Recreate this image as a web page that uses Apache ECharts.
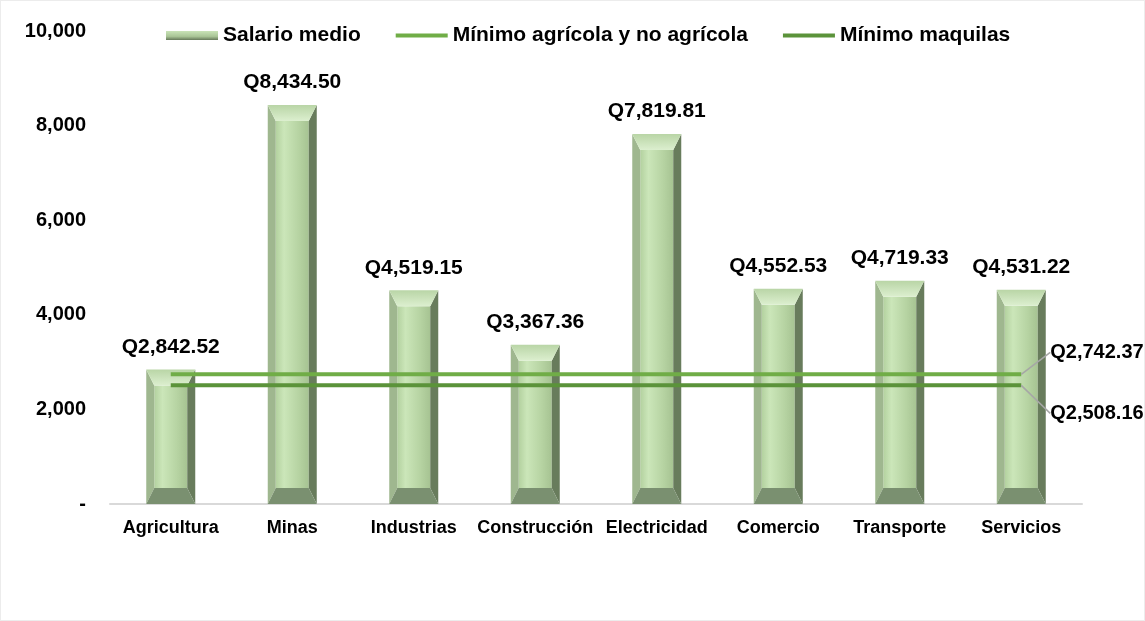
<!DOCTYPE html>
<html>
<head>
<meta charset="utf-8">
<script src="https://cdn.jsdelivr.net/npm/echarts@6/dist/echarts.min.js"></script>
<style>
  html, body { margin: 0; padding: 0; background: #fff; }
  #chart { width: 1145px; height: 621px; box-sizing: border-box; border: 1px solid #ececec; }
</style>
</head>
<body>
<div id="chart"></div>
<script>
const categories = ['Agricultura', 'Minas', 'Industrias', 'Construcción', 'Electricidad', 'Comercio', 'Transporte', 'Servicios']
const salarioMedio = [2842.52, 8434.50, 4519.15, 3367.36, 7819.81, 4552.53, 4719.33, 4531.22]
const minimoAgricola = [2742.37, 2742.37, 2742.37, 2742.37, 2742.37, 2742.37, 2742.37, 2742.37]
const minimoMaquilas = [2508.16, 2508.16, 2508.16, 2508.16, 2508.16, 2508.16, 2508.16, 2508.16]
const yTicks = [0, 2000, 4000, 6000, 8000, 10000]

const font = 'Liberation Sans, Arial, sans-serif'
const fmtQ = v => 'Q' + v.toLocaleString('en-US', { minimumFractionDigits: 2, maximumFractionDigits: 2 })
const lg = (c) => new echarts.graphic.LinearGradient(c[0], c[1], c[2], c[3], c[4])

// barra biselada dibujada con series custom
function renderBevelBar (params, api) {
  const idx = api.value(0)
  const val = api.value(1)
  const top = api.coord([idx, val])
  const base = api.coord([idx, 0])
  const w = 49
  const x0 = top[0] - w / 2
  const x1 = top[0] + w / 2
  const yT = top[1]
  const yB = base[1]
  const d = 8
  const t = Math.min(16, (yB - yT) / 2)
  const poly = (pts, fill) => ({ type: 'polygon', shape: { points: pts }, style: { fill: fill } })
  return {
    type: 'group',
    children: [
      {
        type: 'rect',
        shape: { x: x0 + d, y: yT + t, width: w - 2 * d, height: yB - yT - 2 * t },
        style: {
          fill: lg([0, 0, 1, 0, [
            { offset: 0, color: '#b3d19f' },
            { offset: 0.25, color: '#cbe6b9' },
            { offset: 0.7, color: '#b6d3a2' },
            { offset: 1, color: '#a6c392' }
          ]])
        }
      },
      poly([[x0, yT], [x0 + d, yT + t], [x0 + d, yB - t], [x0, yB]], '#9fb78f'),
      poly([[x1, yT], [x1 - d, yT + t], [x1 - d, yB - t], [x1, yB]], '#687c5c'),
      poly([[x0, yT], [x1, yT], [x1 - d, yT + t], [x0 + d, yT + t]],
        lg([0, 0, 0, 1, [{ offset: 0, color: '#b9d5a6' }, { offset: 1, color: '#dcefcf' }]])),
      poly([[x0, yB], [x1, yB], [x1 - d, yB - t], [x0 + d, yB - t]], '#7a9070'),
      {
        type: 'text',
        style: {
          text: fmtQ(val), x: top[0], y: yT - 12,
          align: 'center', verticalAlign: 'bottom',
          font: 'bold 21px ' + font, fill: '#000'
        }
      }
    ]
  }
}

const chart = echarts.init(document.getElementById('chart'))
chart.setOption({
  animation: false,
  textStyle: { fontFamily: font },
  legend: {
    top: 19,
    left: 160,
    itemGap: 33,
    itemWidth: 52,
    itemHeight: 9,
    textStyle: { fontSize: 21, fontWeight: 'bold', color: '#000', fontFamily: font },
    data: [
      { name: 'Salario medio', icon: 'rect' },
      { name: 'Mínimo agrícola y no agrícola', itemStyle: { opacity: 0 }, lineStyle: { width: 4 } },
      { name: 'Mínimo maquilas', itemStyle: { opacity: 0 }, lineStyle: { width: 4 } }
    ]
  },
  grid: { left: 109, right: 62, top: 30, bottom: 116 },
  xAxis: {
    type: 'category',
    data: categories,
    axisTick: { show: false },
    axisLine: { lineStyle: { color: '#d9d9d9', width: 2 } },
    axisLabel: { color: '#000', fontSize: 18, fontWeight: 'bold', margin: 15, interval: 0 }
  },
  yAxis: {
    type: 'value',
    min: yTicks[0],
    max: yTicks[yTicks.length - 1],
    interval: yTicks[1] - yTicks[0],
    splitLine: { show: false },
    axisLine: { show: false },
    axisTick: { show: false },
    axisLabel: {
      color: '#000', fontSize: 20, fontWeight: 'bold', margin: 24,
      formatter: v => v === 0 ? '-' : v.toLocaleString('en-US')
    }
  },
  series: [
    {
      name: 'Salario medio',
      type: 'custom',
      renderItem: renderBevelBar,
      encode: { x: 0, y: 1 },
      itemStyle: {
        color: lg([0, 0, 0, 1, [{ offset: 0, color: '#c9e3b7' }, { offset: 0.6, color: '#a9c596' }, { offset: 1, color: '#66795a' }]])
      },
      data: salarioMedio.map((v, i) => [i, v])
    },
    {
      name: 'Mínimo agrícola y no agrícola',
      type: 'line',
      data: minimoAgricola.map((v, i) => i === minimoAgricola.length - 1
        ? { value: v, label: { show: true } } : v),
      symbol: 'circle',
      symbolSize: 0.01,
      z: 5,
      lineStyle: { color: '#70ad47', width: 4 },
      itemStyle: { color: '#70ad47' },
      label: { show: false, position: 'right', color: '#000', fontSize: 20, fontWeight: 'bold', formatter: p => fmtQ(p.value) },
      labelLayout: () => ({ dx: 24, dy: -22 }),
      labelLine: { show: true, lineStyle: { color: '#a6a6a6', width: 1.5 } }
    },
    {
      name: 'Mínimo maquilas',
      type: 'line',
      data: minimoMaquilas.map((v, i) => i === minimoMaquilas.length - 1
        ? { value: v, label: { show: true } } : v),
      symbol: 'circle',
      symbolSize: 0.01,
      z: 5,
      lineStyle: { color: '#5b933a', width: 4 },
      itemStyle: { color: '#5b933a' },
      label: { show: false, position: 'right', color: '#000', fontSize: 20, fontWeight: 'bold', formatter: p => fmtQ(p.value) },
      labelLayout: () => ({ dx: 24, dy: 28 }),
      labelLine: { show: true, lineStyle: { color: '#a6a6a6', width: 1.5 } }
    }
  ]
})
</script>
</body>
</html>
